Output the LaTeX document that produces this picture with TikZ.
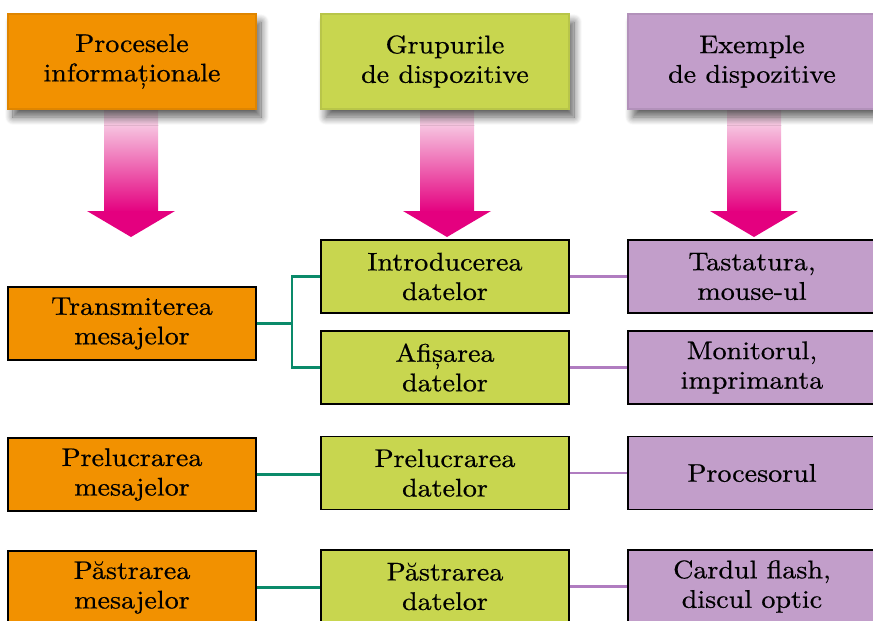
\documentclass[tikz,border=0pt]{standalone}
\usepackage{fontspec}
\setmainfont{lmroman10-regular.otf}[FakeStretch=1.1,FakeBold=0.6]
\usetikzlibrary{shadows.blur,calc}
\definecolor{cOr}{HTML}{F29100}
\definecolor{cGr}{HTML}{C8D64F}
\definecolor{cPu}{HTML}{C29ECA}
\definecolor{cTeal}{HTML}{0A8A6A}
\definecolor{cPline}{HTML}{B07CC0}
\definecolor{cMag}{HTML}{E4007F}
\definecolor{cPink}{HTML}{FAE6F1}
\tikzset{
  every node/.style={font=\fontsize{25.5}{29.5}\selectfont, align=center, inner sep=0pt},
  head/.style={minimum width=248pt, minimum height=95pt, line width=1.2pt,
    blur shadow={shadow xshift=5pt, shadow yshift=-8pt, shadow blur steps=14, shadow blur radius=8pt, shadow opacity=65}},
  headOr/.style={head, fill=cOr, draw=cOr!92!black},
  headGr/.style={head, fill=cGr, draw=cGr!92!black},
  headPu/.style={head, fill=cPu, draw=cPu!92!black},
  rbox/.style={minimum width=248pt, minimum height=73pt, draw=black, line width=1.7pt},
  bOr/.style={rbox, fill=cOr},
  bGr/.style={rbox, fill=cGr},
  bPu/.style={rbox, fill=cPu},
  tline/.style={cTeal, line width=2.5pt},
  pline/.style={cPline, line width=2.5pt},
}
\begin{document}
\begin{tikzpicture}[x=1pt,y=-1pt]
\useasboundingbox (0,0) rectangle (873,621);
% arrows
\foreach \cx in {131,447,754}{
  \shade[top color=cPink, bottom color=cMag] (\cx-27,110) rectangle (\cx+27,212);
  \fill[cMag] (\cx-44,211) -- (\cx+44,211) -- (\cx,237) -- cycle;
}
% headers
\node[headOr] (h1) at (132,61.5) {Procesele\\informaționale};
\node[headGr] (h2) at (445,61.5) {Grupurile\\de dispozitive};
\node[headPu] (h3) at (752,61.5) {Exemple\\de dispozitive};
% row boxes
\node[bOr] (o1) at (132,323.5) {Transmiterea\\mesajelor};
\node[bOr] (o2) at (132,474.5) {Prelucrarea\\mesajelor};
\node[bOr] (o3) at (132,587.5) {Păstrarea\\mesajelor};
\node[bGr] (g1) at (445,276.5) {Introducerea\\datelor};
\node[bGr] (g2) at (445,367.5) {Afișarea\\datelor};
\node[bGr] (g3) at (445,473) {Prelucrarea\\datelor};
\node[bGr] (g4) at (445,586.5) {Păstrarea\\datelor};
\node[bPu] (p1) at (752,276.5) {Tastatura,\\mouse-ul};
\node[bPu] (p2) at (752,367.5) {Monitorul,\\imprimanta};
\node[bPu] (p3) at (752,473) {Procesorul};
\node[bPu] (p4) at (752,586.5) {Cardul flash,\\discul optic};
% connectors
\coordinate (br) at ($(o1.east)+(35,0)$);
\draw[tline] (o1.east) -- (br);
\draw[tline] (g1.west) -| (br) |- (g2.west);
\draw[tline] (o2.east) -- (o2.east -| g3.west);
\draw[tline] (o3.east) -- (o3.east -| g4.west);
\draw[pline] (g1.east) -- (p1.west);
\draw[pline] (g2.east) -- (p2.west);
\draw[pline] (g3.east) -- (p3.west);
\draw[pline] (g4.east) -- (p4.west);
\end{tikzpicture}
\end{document}
